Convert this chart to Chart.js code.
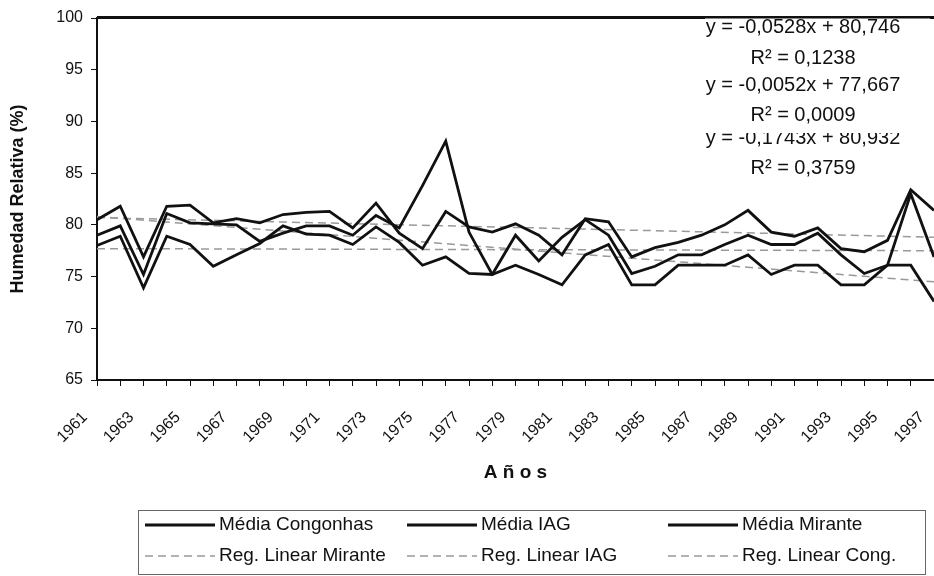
<!DOCTYPE html>
<html>
<head>
<meta charset="utf-8">
<script src="https://cdn.jsdelivr.net/npm/chart.js@4.4.1/dist/chart.umd.min.js"></script>
<style>
    body { margin: 0; background: #fff; }
    #wrap { width: 934px; height: 576px; }
</style>
</head>
<body>
<div id="wrap"><canvas id="humChart" width="934" height="576"></canvas></div>
<script>
// Years on the category axis
const years = ['1961', '1962', '1963', '1964', '1965', '1966', '1967', '1968', '1969', '1970',
    '1971', '1972', '1973', '1974', '1975', '1976', '1977', '1978', '1979', '1980',
    '1981', '1982', '1983', '1984', '1985', '1986', '1987', '1988', '1989', '1990',
    '1991', '1992', '1993', '1994', '1995', '1996', '1997'];

// Annual means (%)
const congonhas = [79.0, 79.9, 75.2, 81.1, 80.2, 80.1, 80.0, 78.4, 79.2, 79.9,
    79.9, 79.0, 80.9, 79.7, 83.8, 88.1, 79.3, 75.2, 76.1, 75.2,
    74.2, 77.1, 78.1, 74.2, 74.2, 76.1, 76.1, 76.1, 77.1, 75.2,
    76.1, 76.1, 74.2, 74.2, 76.1, 76.1, 72.6];
const iag = [78.0, 78.9, 73.9, 78.9, 78.1, 76.0, 77.1, 78.2, 79.9, 79.1,
    79.0, 78.1, 79.8, 78.3, 76.1, 76.9, 75.3, 75.2, 79.0, 76.5,
    78.8, 80.5, 79.0, 75.3, 76.0, 77.1, 77.1, 78.1, 79.0, 78.1,
    78.1, 79.2, 77.1, 75.3, 76.1, 83.0, 76.9];
const mirante = [80.5, 81.8, 76.9, 81.8, 81.9, 80.2, 80.6, 80.2, 81.0, 81.2,
    81.3, 79.7, 82.1, 79.2, 77.7, 81.3, 79.8, 79.3, 80.1, 79.0,
    77.1, 80.6, 80.3, 76.9, 77.8, 78.3, 79.0, 80.0, 81.4, 79.3,
    78.9, 79.7, 77.7, 77.4, 78.5, 83.4, 81.4];

// Trend lines: value at first and last year
const regMirante = [80.7, 78.8];
const regIag = [77.7, 77.5];
const regCong = [80.8, 74.5];

const equations = ['y = -0,0528x + 80,746', 'y = -0,0052x + 77,667', 'y = -0,1743x + 80,932'];
const rSquared = ['R² = 0,1238', 'R² = 0,0009', 'R² = 0,3759'];

const FONT = '"Liberation Sans", Arial, sans-serif';

function trend(vals) {
    return [{ x: years[0], y: vals[0] }, { x: years[years.length - 1], y: vals[1] }];
}

// top frame line, equation labels and boxed legend
const extras = {
    id: 'extras',
    afterDraw(chart) {
        const ctx = chart.ctx;
        const a = chart.chartArea;
        ctx.save();
        ctx.strokeStyle = '#111';
        ctx.lineWidth = 3;
        ctx.beginPath();
        ctx.moveTo(a.left, a.top - 0.5);
        ctx.lineTo(a.right, a.top - 0.5);
        ctx.stroke();

        // equation labels (last one drawn first, like the original overlap)
        const rows = [[27, 58], [85, 115], [138, 168]];
        ctx.textAlign = 'center';
        ctx.textBaseline = 'middle';
        ctx.font = '20px ' + FONT;
        for (let i = 2; i >= 0; i--) {
            const [y1, y2] = rows[i];
            const top = Math.max(y1 - 11, a.top + 0.5);
            ctx.fillStyle = '#fff';
            ctx.fillRect(705, top, 225, y2 + 18 - top);
            ctx.fillStyle = '#111';
            ctx.fillText(equations[i], 803, y1);
            ctx.fillText(rSquared[i], 803, y2);
        }

        // legend box
        ctx.strokeStyle = '#666';
        ctx.lineWidth = 1;
        ctx.strokeRect(138.5, 510.5, 787, 64);
        const cols = [145, 407, 668];
        const lrows = [525, 556];
        ctx.textAlign = 'left';
        ctx.font = '19px ' + FONT;
        chart.data.datasets.forEach((ds, i) => {
            const x = cols[i % 3], y = lrows[Math.floor(i / 3)];
            ctx.beginPath();
            ctx.setLineDash(ds.borderDash || []);
            ctx.strokeStyle = ds.borderColor;
            ctx.lineWidth = ds.borderWidth;
            ctx.moveTo(x, y);
            ctx.lineTo(x + 70, y);
            ctx.stroke();
            ctx.setLineDash([]);
            ctx.fillStyle = '#111';
            ctx.fillText(ds.label, x + 74, y);
        });
        ctx.restore();
    }
};

const solid = (label, data) => ({
    label: label, data: data, borderColor: '#111', borderWidth: 2.8,
    pointRadius: 0, tension: 0, fill: false
});
const dashed = (label, vals) => ({
    label: label, data: trend(vals), borderColor: '#999', borderWidth: 1.5,
    borderDash: [8, 5], pointRadius: 0, tension: 0, fill: false
});

new Chart(document.getElementById('humChart'), {
    type: 'line',
    data: {
        labels: years,
        datasets: [
            solid('Média Congonhas', congonhas),
            solid('Média IAG', iag),
            solid('Média Mirante', mirante),
            dashed('Reg. Linear Mirante', regMirante),
            dashed('Reg. Linear IAG', regIag),
            dashed('Reg. Linear Cong.', regCong)
        ]
    },
    options: {
        responsive: false,
        animation: false,
        layout: { padding: { top: 18, right: 0, bottom: 92, left: 0 } },
        plugins: {
            legend: { display: false },
            tooltip: { enabled: false }
        },
        scales: {
            x: {
                offset: false,
                grid: { drawOnChartArea: false, drawTicks: true, tickLength: 6, color: '#111' },
                border: { display: true, color: '#111', width: 2 },
                ticks: {
                    autoSkip: false, minRotation: 45, maxRotation: 45,
                    padding: 22, labelOffset: -12, color: '#111',
                    font: { family: FONT, size: 16 },
                    callback: function (v, i) { return i % 2 === 0 ? this.getLabelForValue(v) : ''; }
                },
                title: {
                    display: true, text: 'A ñ o s', color: '#111',
                    font: { family: FONT, size: 19, weight: 'bold' },
                    padding: { top: 0, bottom: 0 }
                },
                afterFit: s => { s.height = 104; s.paddingLeft = 0; s.paddingRight = 0; }
            },
            y: {
                min: 65, max: 100,
                grid: { drawOnChartArea: false, drawTicks: true, tickLength: 6, color: '#111' },
                border: { display: true, color: '#111', width: 2 },
                ticks: { stepSize: 5, padding: 8, color: '#111', font: { family: FONT, size: 16 } },
                title: {
                    display: true, text: 'Humedad Relativa (%)', color: '#111',
                    font: { family: FONT, size: 18, weight: 'bold' },
                    padding: { top: 7, bottom: 0 }
                },
                afterFit: s => { s.width = 97; s.paddingTop = 0; s.paddingBottom = 0; }
            }
        }
    },
    plugins: [extras]
});
</script>
</body>
</html>
